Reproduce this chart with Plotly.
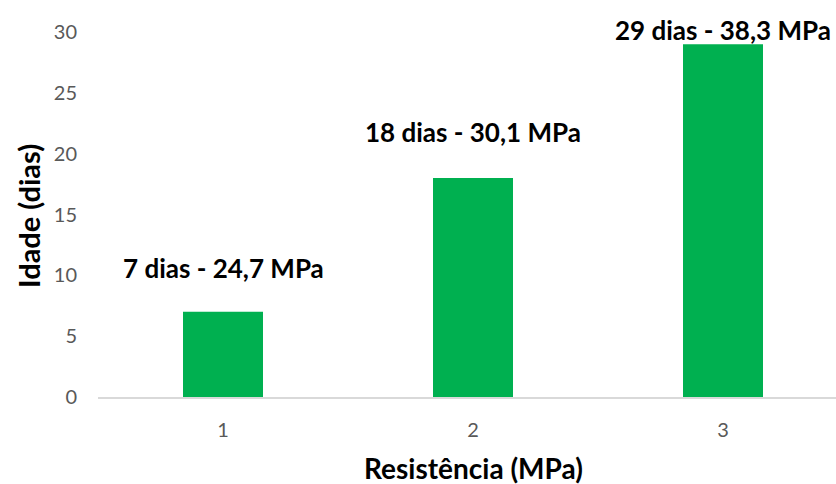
import plotly.graph_objects as go

# Chart data
resistencia = [1, 2, 3]
idade_dias = [7, 18, 29]
mpa = ["24,7", "30,1", "38,3"]
label_y = [10.6, 21.8, 30.2]

W, H = 836, 484
ml, mr, mt, mb = 98, 0, 2, 87
plot_w = W - ml - mr
plot_h = H - mt - mb
px_per_unit = 365 / 30.0
FONT = "Lato"

fig = go.Figure()
fig.add_trace(go.Bar(
    x=resistencia, y=idade_dias, width=0.32,
    marker=dict(color="#00b050", line=dict(width=0)),
    hoverinfo="skip",
))

# Value labels above bars
for x, d, m, ly in zip(resistencia, idade_dias, mpa, label_y):
    fig.add_annotation(
        x=x, y=ly, xref="x", yref="y",
        text=f"{d} dias - {m} MPa", showarrow=False,
        font=dict(family=FONT, size=26, color="#000000", weight="bold"),
        xanchor="center", yanchor="middle",
    )

# Axis titles, placed in paper coordinates
fig.add_annotation(
    x=(473 - ml) / plot_w, y=(H - 468 - mb) / plot_h, xref="paper", yref="paper",
    text="Resistência (MPa)", showarrow=False,
    font=dict(family=FONT, size=28, color="#000000", weight="bold"),
    xanchor="center", yanchor="middle",
)
fig.add_annotation(
    x=(28 - ml) / plot_w, y=(H - 216 - mb) / plot_h, xref="paper", yref="paper",
    text="Idade (dias)", showarrow=False, textangle=-90,
    font=dict(family=FONT, size=29, color="#000000", weight="bold"),
    xanchor="center", yanchor="middle",
)

fig.update_layout(
    width=W, height=H,
    margin=dict(l=ml, r=mr, t=mt, b=mb),
    plot_bgcolor="white", paper_bgcolor="white",
    showlegend=False,
    font=dict(family=FONT, color="#595959", size=20),
)
fig.update_xaxes(
    range=[0.5, 0.5 + plot_w / 250.0],
    tickvals=resistencia, ticktext=[str(v) for v in resistencia],
    showgrid=False, zeroline=False,
    showline=True, linecolor="#d9d9d9", linewidth=2,
    ticks="", ticklabelstandoff=14,
)
fig.update_yaxes(
    range=[0, plot_h / px_per_unit],
    tickvals=[0, 5, 10, 15, 20, 25, 30],
    showgrid=False, zeroline=False, showline=False,
    ticks="", ticklabelstandoff=20,
)

fig.write_html("out.html")
